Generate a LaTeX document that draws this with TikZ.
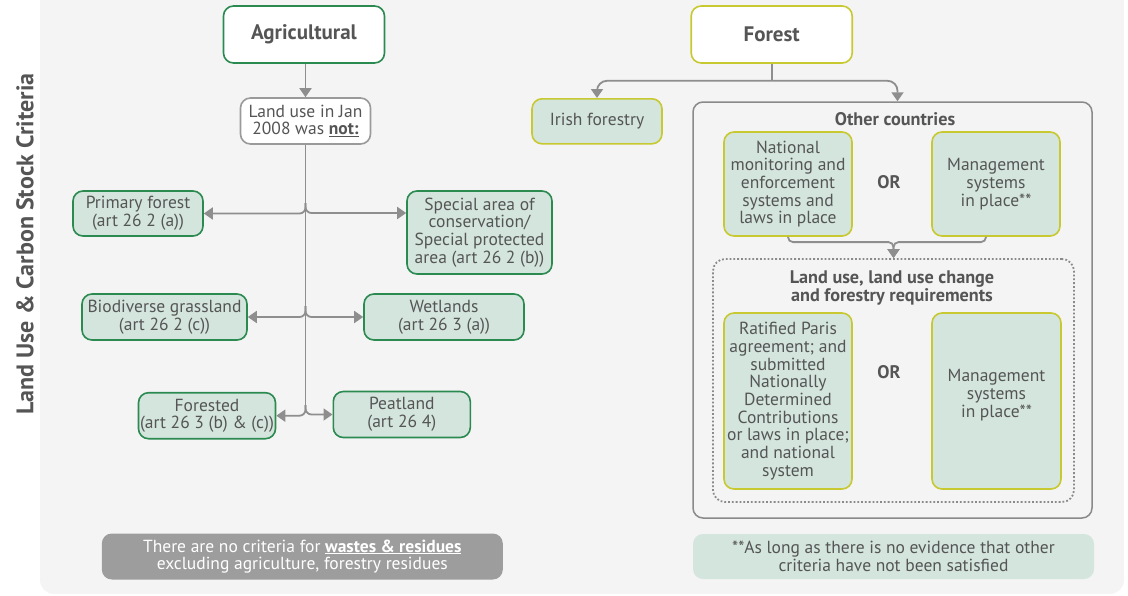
\documentclass[tikz,border=0pt]{standalone}
\usepackage{fontspec}
\setmainfont{PT Sans}
\usetikzlibrary{arrows.meta}
\definecolor{panel}{HTML}{F4F4F4}
\definecolor{agreen}{HTML}{2A8A50}
\definecolor{fyellow}{HTML}{C8C930}
\definecolor{boxfill}{HTML}{D3E5DD}
\definecolor{txtcol}{HTML}{555555}
\definecolor{conncol}{HTML}{8E8E8E}
\definecolor{greybox}{HTML}{9D9D9D}
\definecolor{framegray}{HTML}{8A8A8A}
\definecolor{lightframe}{HTML}{9A9A9A}
\begin{document}
\begin{tikzpicture}[x=1pt,y=-1pt,
  txtfont/.style={font=\fontsize{17.5}{17.7}\selectfont},
  boxbase/.style={rounded corners=10pt, align=center, text=txtcol, txtfont, inner sep=0pt, line width=1.6pt},
  gbox/.style={boxbase, draw=agreen, fill=boxfill},
  ybox/.style={boxbase, draw=fyellow, fill=boxfill},
  headbox/.style={boxbase, fill=white, font=\fontsize{21}{24}\selectfont\bfseries},
  txtnode/.style={text=txtcol, txtfont, align=center, inner sep=0pt},
  lbl/.style={text=txtcol, font=\fontsize{18.2}{17.7}\selectfont\bfseries, align=center, inner sep=0pt},
  conn/.style={draw=conncol, line width=1.8pt},
  arr/.style={conn, -{Triangle[length=9pt,width=12pt]}},
]
\useasboundingbox (0,0) rectangle (1128,595);
\fill[panel, rounded corners=14pt] (40,-20) rectangle (1124,594);

% side title
\node[rotate=90, text=txtcol, font=\fontsize{24}{28}\selectfont\bfseries, inner sep=0pt] (side) at (25,244) {Land Use \& Carbon Stock Criteria};

% ---------- Agricultural side ----------
\node[headbox, draw=agreen, minimum width=161pt, minimum height=57pt] (agri) at (304,34.5) {Agricultural};
\node[boxbase, draw=lightframe, fill=white, minimum width=130pt, minimum height=46pt] (landuse) at (305.5,121) {Land use in Jan\\2008 was \textbf{\underline{not:}}};

\node[gbox, minimum width=130pt, minimum height=45pt] (primary) at (138,213.5) {Primary forest\\(art 26 2 (a))};
\node[gbox, minimum width=145pt, minimum height=83pt] (special) at (479.5,232.5) {Special area of\\conservation/\\Special protected\\area (art 26 2 (b))};
\node[gbox, minimum width=165pt, minimum height=46pt] (biodiv) at (164.5,317) {Biodiverse grassland\\(art 26 2 (c))};
\node[gbox, minimum width=160pt, minimum height=46pt] (wetlands) at (444,317) {Wetlands\\(art 26 3 (a))};
\node[gbox, minimum width=137pt, minimum height=46pt] (forested) at (207,415.7) {Forested\\(art 26 3 (b) \& (c))};
\node[gbox, minimum width=137pt, minimum height=46pt] (peat) at (401.8,414.5) {Peatland\\(art 26 4)};
\node[boxbase, fill=greybox, text=white, minimum width=401pt, minimum height=46pt] (nocrit) at (302.3,556.5) {There are no criteria for \textbf{\underline{wastes \& residues}}\\excluding agriculture, forestry residues};

\draw[arr] (agri.south -| landuse.north) -- (landuse.north);
\coordinate (j1) at (305.5,203);
\coordinate (j2) at (305.5,306);
\coordinate (j3) at (305.5,405);
\draw[conn] (landuse.south) -- (j3);
\draw[arr, rounded corners=6pt] (j1) |- (primary.east);
\draw[arr, rounded corners=6pt] (j1) |- ([yshift=19.5pt]special.west);
\draw[arr, rounded corners=6pt] (j2) |- (biodiv.east);
\draw[arr, rounded corners=6pt] (j2) |- (wetlands.west);
\draw[arr, rounded corners=6pt] (j3) |- (forested.east);
\draw[arr, rounded corners=6pt] (j3) |- (peat.west);

% ---------- Forest side ----------
\node[headbox, draw=fyellow, minimum width=161pt, minimum height=57pt] (forest) at (771.7,34.5) {Forest};
\node[ybox, minimum width=130pt, minimum height=45pt] (irish) at (597,121.3) {Irish forestry};
\node[draw=framegray, line width=1.5pt, rounded corners=10pt, minimum width=399pt, minimum height=416pt, inner sep=0pt] (other) at (892.5,310) {};
\node[lbl] (othertitle) at (895,119) {Other countries};
\node[ybox, minimum width=128pt, minimum height=104pt] (national) at (788,184) {National\\monitoring and\\enforcement\\systems and\\laws in place};
\node[lbl] (or1) at (889,182) {OR};
\node[ybox, minimum width=128pt, minimum height=104pt] (mgmt1) at (996,184) {Management\\systems\\in place**};

\node[draw=framegray, dotted, line width=1.8pt, rounded corners=12pt, minimum width=361pt, minimum height=243pt, inner sep=0pt] (lulucf) at (893.5,380.5) {};
\node[lbl] (lultitle) at (892,288) {Land use, land use change\\and forestry requirements};
\node[ybox, minimum width=128pt, minimum height=176pt] (ratified) at (788,401) {Ratified Paris\\agreement; and\\submitted\\Nationally\\Determined\\Contributions\\or laws in place;\\and national\\system};
\node[lbl] (or2) at (889,372) {OR};
\node[ybox, minimum width=129pt, minimum height=176pt] (mgmt2) at (996.5,401) {};
\node[txtnode] (mgmt2txt) at (996.5,395) {Management\\systems\\in place**};

\node[boxbase, fill=boxfill, minimum width=401pt, minimum height=45pt] (note) at (893.5,556.5) {**As long as there is no evidence that other\\criteria have not been satisfied};

\path (forest.south) ++(0,17) coordinate (fj);
\draw[conn] (forest.south) -- (fj);
\draw[arr, rounded corners=10pt] (fj) -| (irish.north);
\draw[arr, rounded corners=10pt] (fj) -| ([xshift=5pt]other.north);

\path (lulucf.north) ++(0,-16) coordinate (mj);
\draw[arr, rounded corners=5pt] (national.south) |- (mj) -- (lulucf.north);
\draw[arr, rounded corners=5pt] ([xshift=-10pt]mgmt1.south) |- (mj) -- (lulucf.north);
\end{tikzpicture}
\end{document}
